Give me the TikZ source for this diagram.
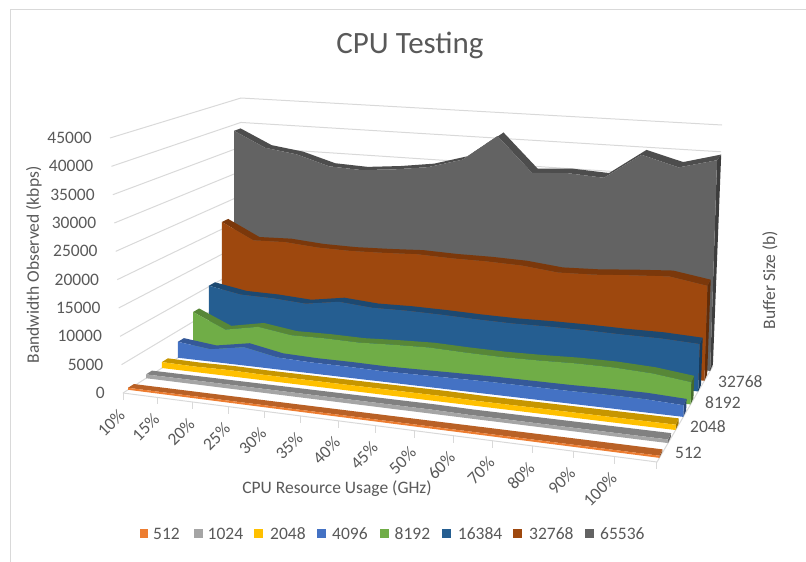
\documentclass[tikz,border=0pt]{standalone}
\usepackage{fontspec}
\setmainfont{Carlito}
\usetikzlibrary{calc}

\definecolor{c512}{HTML}{ED7D31}
\definecolor{c1024}{HTML}{A5A5A5}
\definecolor{c2048}{HTML}{FFC000}
\definecolor{c4096}{HTML}{4472C4}
\definecolor{c8192}{HTML}{70AD47}
\definecolor{c16384}{HTML}{255E91}
\definecolor{c32768}{HTML}{9E480E}
\definecolor{c65536}{HTML}{636363}
\definecolor{gridgray}{HTML}{D9D9D9}
\definecolor{txtgray}{HTML}{595959}

\tikzset{
	wallline/.style={draw=gridgray, line width=1pt},
	axlabel/.style={text=txtgray, inner sep=0pt, font=\fontsize{17.5}{21}\selectfont},
	charttitle/.style={text=txtgray, inner sep=0pt, font=\fontsize{31}{36}\selectfont},
	legsq/.style={draw=none, minimum size=8.5pt, inner sep=0pt},
}

\newcommand\ribbon[4]{%
	\foreach \val [count=\j from 0] in {#3} {
		\pgfmathsetmacro\fr{0.9*(\j/14)/(1-0.1*(\j/14))}
		\pgfmathsetmacro\bx{123+117*#2+(534-61*#2)*\fr}
		\pgfmathsetmacro\by{393-75*#2+(69-21*#2)*\fr}
		\pgfmathsetmacro\hh{\val*(5.67-0.76*#2+(0.52-0.07*#2)*\fr)}
		\pgfmathsetmacro\fx{\bx+(\bx-234)/14500*\hh}
		\coordinate (#1b\j) at (\bx,\by);
		\coordinate (#1f\j) at (\fx,\by-\hh);
		\coordinate (#1t\j) at ($(#1f\j)!7pt!(vp)$);
	}
	\fill[#4!62!black] (#1b14) -- (#1f14) -- (#1t14) -- ($(#1b14)!7pt!(vp)$) -- cycle;
	\fill[#4!78!black] (#1f0) \foreach \j in {1,...,14} {-- (#1f\j)} \foreach \j in {14,13,...,0} {-- (#1t\j)} -- cycle;
	\fill[#4] (#1b0) \foreach \j in {1,...,14} {-- (#1b\j)} \foreach \j in {14,13,...,0} {-- (#1f\j)} -- cycle;
}

\begin{document}
\begin{tikzpicture}[x=1pt, y=-1pt]
	\useasboundingbox (0,0) rectangle (806,562);
	\coordinate (vp) at (920,-117);
	\draw[wallline] (10,562) -- (10,9) -- (806,9);
	\node[charttitle] (title) at (410,45) {CPU Testing};
	\foreach \gv in {0,5,...,45}
		\draw[wallline] ({123-13*\gv/45},{393-255*\gv/45}) -- ({240+\gv/45},{318-220*\gv/45}) -- ({713+9*\gv/45},{366-241*\gv/45});
	\draw[wallline] (123,393) -- (657,462) -- (713,366);
	\foreach \j in {0,...,14} {
		\pgfmathsetmacro\fr{0.9*(\j/14)/(1-0.1*(\j/14))}
		\draw[wallline] ({123+534*\fr},{393+69*\fr}) -- ++(0,7);
	}
	\ribbon{rA}{0.949}{38.6,35.6,34.7,32.8,32.5,33.1,34.0,35.9,40.9,34.3,34.7,34.3,39.1,37.2,39.0}{c65536}
	\ribbon{rB}{0.846}{21.4,18.3,18.5,18.0,17.9,18.1,18.4,18.2,18.2,18.0,17.3,17.5,18.0,18.4,17.3}{c32768}
	\ribbon{rC}{0.735}{10.2,9.1,9.0,8.6,9.6,9.1,9.2,9.1,8.9,8.8,8.9,8.9,8.8,8.8,8.5}{c16384}
	\ribbon{rD}{0.600}{6.9,4.2,5.4,4.5,4.6,4.5,4.8,5.0,4.8,4.7,4.8,5.0,5.0,4.7,3.9}{c8192}
	\ribbon{rE}{0.470}{3.0,2.3,3.4,2.2,2.0,2.0,1.9,2.0,2.1,2.2,2.2,2.2,2.3,2.3,2.0}{c4096}
	\ribbon{rF}{0.333}{1.1,1.0,1.1,1.0,1.0,1.0,1.0,1.0,1.0,0.9,0.9,0.9,0.9,0.9,0.9}{c2048}
	\ribbon{rG}{0.197}{0.7,0.7,0.7,0.7,0.7,0.7,0.7,0.7,0.7,0.6,0.6,0.6,0.6,0.6,0.6}{c1024}
	\ribbon{rH}{0.043}{0.35,0.35,0.35,0.35,0.35,0.35,0.35,0.35,0.35,0.35,0.35,0.35,0.35,0.35,0.35}{c512}
	\foreach \gv/\yv in {0/0,5/5000,10/10000,15/15000,20/20000,25/25000,30/30000,35/35000,40/40000,45/45000}
		\node[axlabel, anchor=east] (yl\gv) at ({105-13*\gv/45},{393-255*\gv/45}) {\yv};
	\foreach \lab [count=\j from 0] in {10,15,20,25,30,35,40,45,50,60,70,80,90,100} {
		\pgfmathsetmacro\fr{0.9*(\j/14)/(1-0.1*(\j/14))}
		\node[axlabel, anchor=east, rotate=45] (xl\j) at ({122+534*\fr},{412+69*\fr}) {\lab\%};
	}
	\node[axlabel, anchor=west] (dl512) at (675,453) {512};
	\node[axlabel, anchor=west] (dl2048) at (690,427) {2048};
	\node[axlabel, anchor=west] (dl8192) at (705,403) {8192};
	\node[axlabel, anchor=west] (dl32768) at (718,382) {32768};
	\node[axlabel, rotate=90] (ytitle) at (34,265) {Bandwidth Observed (kbps)};
	\node[axlabel, rotate=90] (ztitle) at (770,280) {Buffer Size (b)};
	\node[axlabel] (xtitle) at (337,489) {CPU Resource Usage (GHz)};
	\foreach \c/\sx/\tx in {512/139.5/153, 1024/194/207.5, 2048/254/270, 4096/317/332, 8192/380/394.5, 16384/442/457.7, 32768/513/529, 65536/585/600} {
		\node[legsq, fill=c\c] (lg\c) at (\sx+4.25,533.6) {};
		\node[axlabel, anchor=west] (lt\c) at (\tx,533.6) {\c};
	}
\end{tikzpicture}
\end{document}
